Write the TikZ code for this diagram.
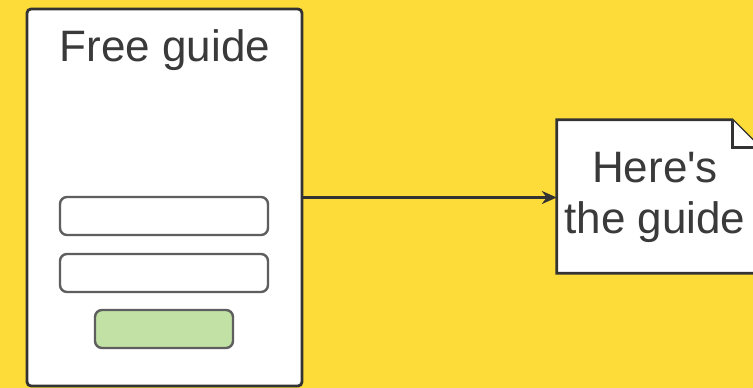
\documentclass[tikz,border=0pt]{standalone}
\usepackage{fontspec}
\setmainfont{Liberation Sans}[Ligatures=TeXOff]
\usetikzlibrary{arrows.meta}
\definecolor{bgyellow}{HTML}{FDDC3A}
\definecolor{edge}{HTML}{333333}
\definecolor{fieldedge}{HTML}{5E5E5E}
\definecolor{btngreen}{HTML}{C2E2A5}
\definecolor{txt}{HTML}{3A3A3A}
\tikzset{
  panel/.style={draw=edge, fill=white, line width=2.8pt, rounded corners=4pt, minimum width=275pt, minimum height=377pt, inner sep=0pt},
  field/.style={draw=fieldedge, fill=white, line width=2.4pt, rounded corners=7pt, minimum width=208pt, minimum height=38pt, inner sep=0pt},
  button/.style={field, fill=btngreen, minimum width=138pt},
  label/.style={font=\fontsize{44}{51}\selectfont, text=txt, inner sep=0pt},
  docline/.style={draw=edge, line width=2.8pt, line join=miter},
  conn/.style={draw=edge, line width=2.4pt, -{Stealth[length=15pt,width=13pt]}}
}
\begin{document}
\begin{tikzpicture}[x=1pt,y=-1pt]
\useasboundingbox (0,0) rectangle (753,388);
\fill[bgyellow] (0,0) rectangle (753,388);
\clip (0,0) rectangle (753,388);
\node[panel] (form) at (164.5,197.5) {};
\node[label, anchor=base] (title) at (165,61) {Free guide};
\node[field] (f1) at (164,216) {};
\node[field] (f2) at (164,273) {};
\node[button] (btn) at (164,329) {};
\node[minimum width=203pt, minimum height=153pt, inner sep=0pt] (doc) at (658.5,196.5) {};
\draw[docline, fill=white] (doc.north west) -- ([xshift=-28pt]doc.north east) -- ([yshift=-28pt]doc.north east) -- (doc.south east) -- (doc.south west) -- cycle;
\draw[docline, fill=white] ([xshift=-28pt]doc.north east) -- ([xshift=-28pt,yshift=-28pt]doc.north east) -- ([yshift=-28pt]doc.north east);
\node[label, align=center, anchor=base] (doctext) at (655,233) {Here's\\the guide};
\draw[conn] (form.east) -- (form.east -| doc.west);
\end{tikzpicture}
\end{document}
